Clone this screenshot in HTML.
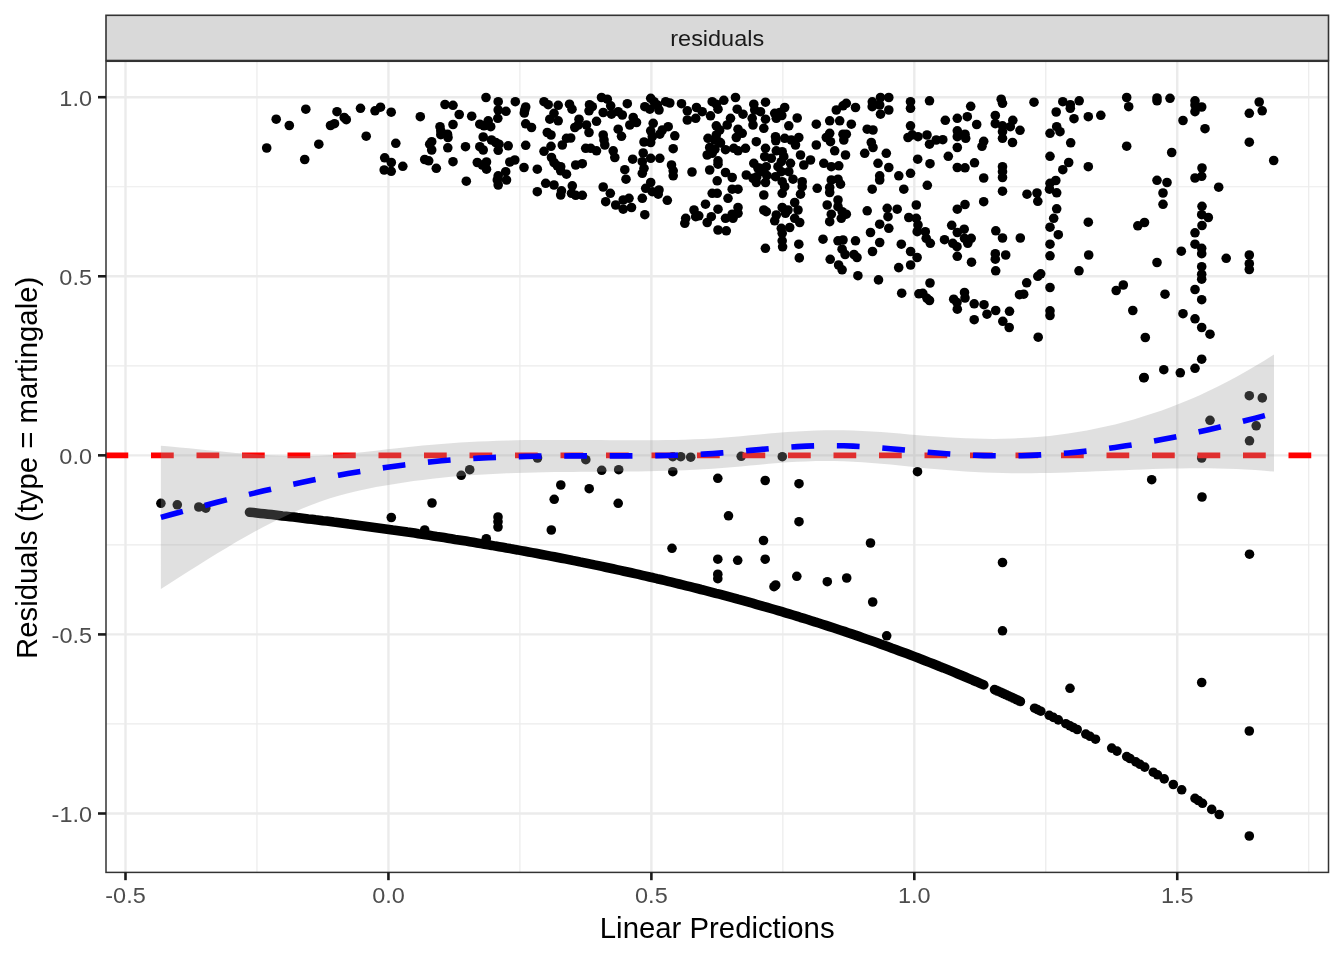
<!DOCTYPE html><html><head><meta charset="utf-8"><style>html,body{margin:0;padding:0;background:#fff;}svg{display:block}</style></head><body>
<svg width="1344" height="960" viewBox="0 0 1344 960" font-family="Liberation Sans, Arial, sans-serif">
<rect width="1344" height="960" fill="#fff"/>
<line x1="106.0" x2="1328.5" y1="723.96" y2="723.96" stroke="#EBEBEB" stroke-width="1.2"/><line x1="106.0" x2="1328.5" y1="544.89" y2="544.89" stroke="#EBEBEB" stroke-width="1.2"/><line x1="106.0" x2="1328.5" y1="365.81" y2="365.81" stroke="#EBEBEB" stroke-width="1.2"/><line x1="106.0" x2="1328.5" y1="186.74" y2="186.74" stroke="#EBEBEB" stroke-width="1.2"/><line x1="256.97" x2="256.97" y1="60.5" y2="872.4" stroke="#EBEBEB" stroke-width="1.2"/><line x1="519.91" x2="519.91" y1="60.5" y2="872.4" stroke="#EBEBEB" stroke-width="1.2"/><line x1="782.85" x2="782.85" y1="60.5" y2="872.4" stroke="#EBEBEB" stroke-width="1.2"/><line x1="1045.78" x2="1045.78" y1="60.5" y2="872.4" stroke="#EBEBEB" stroke-width="1.2"/><line x1="1308.72" x2="1308.72" y1="60.5" y2="872.4" stroke="#EBEBEB" stroke-width="1.2"/><line x1="106.0" x2="1328.5" y1="813.50" y2="813.50" stroke="#EBEBEB" stroke-width="2.4"/><line x1="106.0" x2="1328.5" y1="634.42" y2="634.42" stroke="#EBEBEB" stroke-width="2.4"/><line x1="106.0" x2="1328.5" y1="455.35" y2="455.35" stroke="#EBEBEB" stroke-width="2.4"/><line x1="106.0" x2="1328.5" y1="276.28" y2="276.28" stroke="#EBEBEB" stroke-width="2.4"/><line x1="106.0" x2="1328.5" y1="97.20" y2="97.20" stroke="#EBEBEB" stroke-width="2.4"/><line x1="125.50" x2="125.50" y1="60.5" y2="872.4" stroke="#EBEBEB" stroke-width="2.4"/><line x1="388.44" x2="388.44" y1="60.5" y2="872.4" stroke="#EBEBEB" stroke-width="2.4"/><line x1="651.38" x2="651.38" y1="60.5" y2="872.4" stroke="#EBEBEB" stroke-width="2.4"/><line x1="914.32" x2="914.32" y1="60.5" y2="872.4" stroke="#EBEBEB" stroke-width="2.4"/><line x1="1177.25" x2="1177.25" y1="60.5" y2="872.4" stroke="#EBEBEB" stroke-width="2.4"/>
<g fill="#000"><circle cx="276.2" cy="119.2" r="4.8"/><circle cx="289.3" cy="125.5" r="4.8"/><circle cx="305.8" cy="109.2" r="4.8"/><circle cx="266.7" cy="148.0" r="4.8"/><circle cx="304.7" cy="159.5" r="4.8"/><circle cx="318.8" cy="144.2" r="4.8"/><circle cx="337.0" cy="111.7" r="4.8"/><circle cx="344.2" cy="117.5" r="4.8"/><circle cx="346.3" cy="119.7" r="4.8"/><circle cx="330.5" cy="125.5" r="4.8"/><circle cx="334.5" cy="123.7" r="4.8"/><circle cx="360.5" cy="108.3" r="4.8"/><circle cx="375.0" cy="110.8" r="4.8"/><circle cx="380.5" cy="107.2" r="4.8"/><circle cx="391.2" cy="112.2" r="4.8"/><circle cx="366.2" cy="136.2" r="4.8"/><circle cx="395.8" cy="143.3" r="4.8"/><circle cx="384.7" cy="157.8" r="4.8"/><circle cx="391.3" cy="162.5" r="4.8"/><circle cx="384.2" cy="170.0" r="4.8"/><circle cx="391.2" cy="171.3" r="4.8"/><circle cx="402.8" cy="166.3" r="4.8"/><circle cx="420.3" cy="116.7" r="4.8"/><circle cx="445.0" cy="104.5" r="4.8"/><circle cx="453.0" cy="105.3" r="4.8"/><circle cx="459.2" cy="114.5" r="4.8"/><circle cx="471.7" cy="116.2" r="4.8"/><circle cx="453.0" cy="124.5" r="4.8"/><circle cx="440.0" cy="126.7" r="4.8"/><circle cx="440.8" cy="130.8" r="4.8"/><circle cx="440.8" cy="134.7" r="4.8"/><circle cx="447.5" cy="134.2" r="4.8"/><circle cx="448.0" cy="137.5" r="4.8"/><circle cx="431.7" cy="141.7" r="4.8"/><circle cx="429.7" cy="144.2" r="4.8"/><circle cx="431.7" cy="150.0" r="4.8"/><circle cx="447.8" cy="147.8" r="4.8"/><circle cx="465.5" cy="146.7" r="4.8"/><circle cx="424.7" cy="159.5" r="4.8"/><circle cx="428.7" cy="160.8" r="4.8"/><circle cx="436.3" cy="168.3" r="4.8"/><circle cx="453.0" cy="161.7" r="4.8"/><circle cx="466.3" cy="181.2" r="4.8"/><circle cx="486.0" cy="97.5" r="4.8"/><circle cx="498.2" cy="101.7" r="4.8"/><circle cx="515.3" cy="101.7" r="4.8"/><circle cx="525.7" cy="107.0" r="4.8"/><circle cx="544.0" cy="101.7" r="4.8"/><circle cx="548.2" cy="104.7" r="4.8"/><circle cx="558.2" cy="105.3" r="4.8"/><circle cx="569.5" cy="104.2" r="4.8"/><circle cx="572.0" cy="109.2" r="4.8"/><circle cx="589.5" cy="104.7" r="4.8"/><circle cx="592.3" cy="106.7" r="4.8"/><circle cx="601.5" cy="97.5" r="4.8"/><circle cx="607.3" cy="99.2" r="4.8"/><circle cx="610.7" cy="105.8" r="4.8"/><circle cx="627.3" cy="103.7" r="4.8"/><circle cx="650.7" cy="98.3" r="4.8"/><circle cx="654.0" cy="101.7" r="4.8"/><circle cx="657.3" cy="105.0" r="4.8"/><circle cx="644.8" cy="106.7" r="4.8"/><circle cx="649.8" cy="109.2" r="4.8"/><circle cx="659.0" cy="110.0" r="4.8"/><circle cx="665.7" cy="101.7" r="4.8"/><circle cx="669.8" cy="103.0" r="4.8"/><circle cx="681.5" cy="103.7" r="4.8"/><circle cx="696.5" cy="107.5" r="4.8"/><circle cx="498.2" cy="110.0" r="4.8"/><circle cx="506.0" cy="111.3" r="4.8"/><circle cx="497.8" cy="118.3" r="4.8"/><circle cx="524.3" cy="113.0" r="4.8"/><circle cx="524.8" cy="110.0" r="4.8"/><circle cx="479.8" cy="124.2" r="4.8"/><circle cx="484.0" cy="125.8" r="4.8"/><circle cx="488.2" cy="120.8" r="4.8"/><circle cx="490.7" cy="126.7" r="4.8"/><circle cx="525.7" cy="123.8" r="4.8"/><circle cx="531.5" cy="127.5" r="4.8"/><circle cx="554.0" cy="113.3" r="4.8"/><circle cx="549.8" cy="119.2" r="4.8"/><circle cx="558.2" cy="120.8" r="4.8"/><circle cx="579.0" cy="119.2" r="4.8"/><circle cx="574.8" cy="127.5" r="4.8"/><circle cx="578.2" cy="125.0" r="4.8"/><circle cx="586.5" cy="125.0" r="4.8"/><circle cx="589.0" cy="132.5" r="4.8"/><circle cx="596.5" cy="121.3" r="4.8"/><circle cx="589.0" cy="110.8" r="4.8"/><circle cx="603.2" cy="112.5" r="4.8"/><circle cx="611.5" cy="114.2" r="4.8"/><circle cx="618.2" cy="111.7" r="4.8"/><circle cx="622.3" cy="115.0" r="4.8"/><circle cx="633.2" cy="117.5" r="4.8"/><circle cx="636.5" cy="122.5" r="4.8"/><circle cx="629.8" cy="125.0" r="4.8"/><circle cx="653.2" cy="123.3" r="4.8"/><circle cx="650.7" cy="130.8" r="4.8"/><circle cx="668.2" cy="126.7" r="4.8"/><circle cx="662.3" cy="130.0" r="4.8"/><circle cx="659.8" cy="134.2" r="4.8"/><circle cx="687.3" cy="110.8" r="4.8"/><circle cx="687.3" cy="120.0" r="4.8"/><circle cx="695.7" cy="118.3" r="4.8"/><circle cx="674.8" cy="135.8" r="4.8"/><circle cx="618.2" cy="129.2" r="4.8"/><circle cx="621.5" cy="136.3" r="4.8"/><circle cx="547.3" cy="132.5" r="4.8"/><circle cx="551.0" cy="135.0" r="4.8"/><circle cx="483.2" cy="137.0" r="4.8"/><circle cx="491.5" cy="140.0" r="4.8"/><circle cx="495.7" cy="142.5" r="4.8"/><circle cx="499.0" cy="144.2" r="4.8"/><circle cx="498.2" cy="150.3" r="4.8"/><circle cx="479.8" cy="146.7" r="4.8"/><circle cx="483.2" cy="150.0" r="4.8"/><circle cx="508.2" cy="145.8" r="4.8"/><circle cx="525.7" cy="145.3" r="4.8"/><circle cx="544.0" cy="151.3" r="4.8"/><circle cx="551.0" cy="146.3" r="4.8"/><circle cx="562.3" cy="145.0" r="4.8"/><circle cx="566.5" cy="138.3" r="4.8"/><circle cx="570.7" cy="138.0" r="4.8"/><circle cx="585.7" cy="148.3" r="4.8"/><circle cx="590.7" cy="148.3" r="4.8"/><circle cx="596.5" cy="150.8" r="4.8"/><circle cx="603.2" cy="135.0" r="4.8"/><circle cx="604.0" cy="140.0" r="4.8"/><circle cx="604.8" cy="145.0" r="4.8"/><circle cx="613.2" cy="150.8" r="4.8"/><circle cx="614.8" cy="157.5" r="4.8"/><circle cx="644.0" cy="142.0" r="4.8"/><circle cx="650.7" cy="142.5" r="4.8"/><circle cx="652.3" cy="136.7" r="4.8"/><circle cx="643.2" cy="153.0" r="4.8"/><circle cx="673.2" cy="148.7" r="4.8"/><circle cx="650.7" cy="158.3" r="4.8"/><circle cx="659.8" cy="158.3" r="4.8"/><circle cx="632.7" cy="159.2" r="4.8"/><circle cx="477.3" cy="162.5" r="4.8"/><circle cx="482.3" cy="165.0" r="4.8"/><circle cx="486.5" cy="162.0" r="4.8"/><circle cx="486.5" cy="169.2" r="4.8"/><circle cx="509.8" cy="162.0" r="4.8"/><circle cx="514.8" cy="160.0" r="4.8"/><circle cx="505.7" cy="171.7" r="4.8"/><circle cx="498.2" cy="175.8" r="4.8"/><circle cx="497.3" cy="180.0" r="4.8"/><circle cx="498.2" cy="185.0" r="4.8"/><circle cx="506.5" cy="180.0" r="4.8"/><circle cx="524.0" cy="167.5" r="4.8"/><circle cx="537.3" cy="169.2" r="4.8"/><circle cx="551.5" cy="157.5" r="4.8"/><circle cx="554.0" cy="162.5" r="4.8"/><circle cx="557.3" cy="165.8" r="4.8"/><circle cx="560.7" cy="166.7" r="4.8"/><circle cx="560.7" cy="170.8" r="4.8"/><circle cx="566.5" cy="174.2" r="4.8"/><circle cx="575.7" cy="165.0" r="4.8"/><circle cx="582.3" cy="163.7" r="4.8"/><circle cx="624.8" cy="169.7" r="4.8"/><circle cx="626.0" cy="179.2" r="4.8"/><circle cx="642.3" cy="161.7" r="4.8"/><circle cx="644.0" cy="168.3" r="4.8"/><circle cx="642.3" cy="173.3" r="4.8"/><circle cx="671.5" cy="165.0" r="4.8"/><circle cx="673.2" cy="170.8" r="4.8"/><circle cx="673.2" cy="175.8" r="4.8"/><circle cx="692.0" cy="172.0" r="4.8"/><circle cx="537.3" cy="191.7" r="4.8"/><circle cx="545.7" cy="183.3" r="4.8"/><circle cx="554.0" cy="185.0" r="4.8"/><circle cx="561.5" cy="190.8" r="4.8"/><circle cx="560.7" cy="195.0" r="4.8"/><circle cx="572.3" cy="185.8" r="4.8"/><circle cx="571.5" cy="193.3" r="4.8"/><circle cx="575.7" cy="195.3" r="4.8"/><circle cx="582.3" cy="195.3" r="4.8"/><circle cx="603.2" cy="187.0" r="4.8"/><circle cx="610.3" cy="193.3" r="4.8"/><circle cx="605.7" cy="201.7" r="4.8"/><circle cx="615.7" cy="205.0" r="4.8"/><circle cx="623.2" cy="200.0" r="4.8"/><circle cx="629.0" cy="198.3" r="4.8"/><circle cx="623.2" cy="209.2" r="4.8"/><circle cx="631.5" cy="207.5" r="4.8"/><circle cx="642.3" cy="198.3" r="4.8"/><circle cx="644.8" cy="214.7" r="4.8"/><circle cx="650.7" cy="182.5" r="4.8"/><circle cx="645.7" cy="188.3" r="4.8"/><circle cx="652.3" cy="191.7" r="4.8"/><circle cx="659.0" cy="190.0" r="4.8"/><circle cx="658.2" cy="194.2" r="4.8"/><circle cx="667.3" cy="200.3" r="4.8"/><circle cx="685.7" cy="218.3" r="4.8"/><circle cx="684.8" cy="223.3" r="4.8"/><circle cx="694.0" cy="210.0" r="4.8"/><circle cx="695.7" cy="216.7" r="4.8"/><circle cx="702.2" cy="111.7" r="4.8"/><circle cx="710.5" cy="115.8" r="4.8"/><circle cx="712.2" cy="101.7" r="4.8"/><circle cx="716.3" cy="104.2" r="4.8"/><circle cx="718.0" cy="109.2" r="4.8"/><circle cx="723.8" cy="100.3" r="4.8"/><circle cx="735.5" cy="97.5" r="4.8"/><circle cx="737.2" cy="109.2" r="4.8"/><circle cx="743.0" cy="114.2" r="4.8"/><circle cx="730.5" cy="118.3" r="4.8"/><circle cx="727.2" cy="125.0" r="4.8"/><circle cx="716.3" cy="125.8" r="4.8"/><circle cx="753.8" cy="104.2" r="4.8"/><circle cx="754.7" cy="110.0" r="4.8"/><circle cx="760.5" cy="111.7" r="4.8"/><circle cx="765.5" cy="102.2" r="4.8"/><circle cx="765.5" cy="119.2" r="4.8"/><circle cx="752.2" cy="118.3" r="4.8"/><circle cx="753.0" cy="125.0" r="4.8"/><circle cx="763.8" cy="128.3" r="4.8"/><circle cx="774.7" cy="113.3" r="4.8"/><circle cx="779.7" cy="112.5" r="4.8"/><circle cx="784.7" cy="107.5" r="4.8"/><circle cx="776.3" cy="118.3" r="4.8"/><circle cx="797.2" cy="118.0" r="4.8"/><circle cx="788.8" cy="125.8" r="4.8"/><circle cx="719.7" cy="130.0" r="4.8"/><circle cx="716.3" cy="135.0" r="4.8"/><circle cx="708.0" cy="138.3" r="4.8"/><circle cx="718.8" cy="141.7" r="4.8"/><circle cx="714.7" cy="140.0" r="4.8"/><circle cx="709.7" cy="147.5" r="4.8"/><circle cx="707.2" cy="155.0" r="4.8"/><circle cx="712.2" cy="153.3" r="4.8"/><circle cx="725.5" cy="149.7" r="4.8"/><circle cx="733.8" cy="148.3" r="4.8"/><circle cx="738.0" cy="150.8" r="4.8"/><circle cx="745.5" cy="148.3" r="4.8"/><circle cx="738.0" cy="129.2" r="4.8"/><circle cx="742.2" cy="133.3" r="4.8"/><circle cx="736.3" cy="137.5" r="4.8"/><circle cx="756.3" cy="141.7" r="4.8"/><circle cx="765.5" cy="148.3" r="4.8"/><circle cx="775.5" cy="136.7" r="4.8"/><circle cx="784.7" cy="138.3" r="4.8"/><circle cx="791.3" cy="140.0" r="4.8"/><circle cx="798.8" cy="137.5" r="4.8"/><circle cx="795.5" cy="145.0" r="4.8"/><circle cx="776.3" cy="150.8" r="4.8"/><circle cx="782.2" cy="151.7" r="4.8"/><circle cx="783.8" cy="156.7" r="4.8"/><circle cx="771.3" cy="158.3" r="4.8"/><circle cx="764.7" cy="156.7" r="4.8"/><circle cx="816.3" cy="124.2" r="4.8"/><circle cx="829.7" cy="120.8" r="4.8"/><circle cx="839.7" cy="120.8" r="4.8"/><circle cx="851.3" cy="124.2" r="4.8"/><circle cx="836.3" cy="110.0" r="4.8"/><circle cx="843.0" cy="105.8" r="4.8"/><circle cx="855.5" cy="107.5" r="4.8"/><circle cx="846.3" cy="103.3" r="4.8"/><circle cx="826.3" cy="137.5" r="4.8"/><circle cx="829.7" cy="133.3" r="4.8"/><circle cx="830.5" cy="141.7" r="4.8"/><circle cx="843.0" cy="134.2" r="4.8"/><circle cx="846.3" cy="134.2" r="4.8"/><circle cx="843.8" cy="140.0" r="4.8"/><circle cx="816.3" cy="145.0" r="4.8"/><circle cx="834.7" cy="150.8" r="4.8"/><circle cx="845.5" cy="155.0" r="4.8"/><circle cx="867.2" cy="129.2" r="4.8"/><circle cx="873.0" cy="130.0" r="4.8"/><circle cx="871.3" cy="142.5" r="4.8"/><circle cx="873.0" cy="147.5" r="4.8"/><circle cx="864.7" cy="153.3" r="4.8"/><circle cx="872.2" cy="106.7" r="4.8"/><circle cx="880.5" cy="97.5" r="4.8"/><circle cx="888.8" cy="97.5" r="4.8"/><circle cx="879.7" cy="105.0" r="4.8"/><circle cx="888.8" cy="110.0" r="4.8"/><circle cx="880.5" cy="114.2" r="4.8"/><circle cx="910.5" cy="101.7" r="4.8"/><circle cx="910.5" cy="108.3" r="4.8"/><circle cx="910.5" cy="125.8" r="4.8"/><circle cx="908.0" cy="137.5" r="4.8"/><circle cx="918.0" cy="136.7" r="4.8"/><circle cx="886.3" cy="153.3" r="4.8"/><circle cx="718.0" cy="160.8" r="4.8"/><circle cx="718.0" cy="164.2" r="4.8"/><circle cx="709.7" cy="170.0" r="4.8"/><circle cx="725.5" cy="172.5" r="4.8"/><circle cx="732.2" cy="177.5" r="4.8"/><circle cx="717.2" cy="180.8" r="4.8"/><circle cx="746.3" cy="175.0" r="4.8"/><circle cx="753.8" cy="163.3" r="4.8"/><circle cx="758.0" cy="168.3" r="4.8"/><circle cx="763.0" cy="171.7" r="4.8"/><circle cx="766.3" cy="166.7" r="4.8"/><circle cx="753.0" cy="178.3" r="4.8"/><circle cx="756.3" cy="182.5" r="4.8"/><circle cx="765.5" cy="182.5" r="4.8"/><circle cx="775.5" cy="176.7" r="4.8"/><circle cx="778.0" cy="166.7" r="4.8"/><circle cx="781.3" cy="161.7" r="4.8"/><circle cx="781.3" cy="171.7" r="4.8"/><circle cx="788.8" cy="171.7" r="4.8"/><circle cx="790.5" cy="163.3" r="4.8"/><circle cx="793.0" cy="179.2" r="4.8"/><circle cx="782.2" cy="181.7" r="4.8"/><circle cx="784.7" cy="186.7" r="4.8"/><circle cx="782.2" cy="193.3" r="4.8"/><circle cx="800.5" cy="155.0" r="4.8"/><circle cx="803.8" cy="165.0" r="4.8"/><circle cx="810.5" cy="160.0" r="4.8"/><circle cx="823.8" cy="163.3" r="4.8"/><circle cx="831.3" cy="166.7" r="4.8"/><circle cx="838.8" cy="165.8" r="4.8"/><circle cx="802.2" cy="181.7" r="4.8"/><circle cx="802.2" cy="186.7" r="4.8"/><circle cx="800.5" cy="194.2" r="4.8"/><circle cx="817.2" cy="188.3" r="4.8"/><circle cx="831.3" cy="180.0" r="4.8"/><circle cx="838.0" cy="179.2" r="4.8"/><circle cx="840.5" cy="184.2" r="4.8"/><circle cx="829.7" cy="187.5" r="4.8"/><circle cx="829.7" cy="192.5" r="4.8"/><circle cx="878.0" cy="163.3" r="4.8"/><circle cx="888.8" cy="167.5" r="4.8"/><circle cx="879.7" cy="175.8" r="4.8"/><circle cx="879.7" cy="180.0" r="4.8"/><circle cx="898.8" cy="175.8" r="4.8"/><circle cx="910.5" cy="173.3" r="4.8"/><circle cx="917.7" cy="159.2" r="4.8"/><circle cx="872.2" cy="189.2" r="4.8"/><circle cx="903.8" cy="189.2" r="4.8"/><circle cx="712.2" cy="193.3" r="4.8"/><circle cx="717.2" cy="193.3" r="4.8"/><circle cx="728.0" cy="198.3" r="4.8"/><circle cx="732.2" cy="189.2" r="4.8"/><circle cx="738.0" cy="189.2" r="4.8"/><circle cx="705.5" cy="204.2" r="4.8"/><circle cx="718.0" cy="209.2" r="4.8"/><circle cx="711.3" cy="216.7" r="4.8"/><circle cx="707.2" cy="222.5" r="4.8"/><circle cx="698.8" cy="215.8" r="4.8"/><circle cx="725.5" cy="218.3" r="4.8"/><circle cx="732.2" cy="214.2" r="4.8"/><circle cx="738.0" cy="207.5" r="4.8"/><circle cx="738.0" cy="213.3" r="4.8"/><circle cx="733.0" cy="218.3" r="4.8"/><circle cx="718.0" cy="230.0" r="4.8"/><circle cx="726.3" cy="230.8" r="4.8"/><circle cx="763.8" cy="195.0" r="4.8"/><circle cx="763.8" cy="210.0" r="4.8"/><circle cx="766.3" cy="211.7" r="4.8"/><circle cx="776.3" cy="215.0" r="4.8"/><circle cx="774.7" cy="220.8" r="4.8"/><circle cx="782.2" cy="207.5" r="4.8"/><circle cx="785.5" cy="213.3" r="4.8"/><circle cx="788.0" cy="210.0" r="4.8"/><circle cx="794.7" cy="202.5" r="4.8"/><circle cx="798.0" cy="210.0" r="4.8"/><circle cx="794.7" cy="218.3" r="4.8"/><circle cx="799.7" cy="222.5" r="4.8"/><circle cx="781.3" cy="228.3" r="4.8"/><circle cx="789.7" cy="227.5" r="4.8"/><circle cx="782.2" cy="233.3" r="4.8"/><circle cx="782.2" cy="240.8" r="4.8"/><circle cx="798.8" cy="244.2" r="4.8"/><circle cx="827.2" cy="205.0" r="4.8"/><circle cx="838.0" cy="200.0" r="4.8"/><circle cx="838.0" cy="206.7" r="4.8"/><circle cx="842.2" cy="211.7" r="4.8"/><circle cx="846.3" cy="214.2" r="4.8"/><circle cx="831.3" cy="214.2" r="4.8"/><circle cx="829.7" cy="221.7" r="4.8"/><circle cx="841.3" cy="218.3" r="4.8"/><circle cx="823.0" cy="239.2" r="4.8"/><circle cx="838.0" cy="240.8" r="4.8"/><circle cx="843.0" cy="240.0" r="4.8"/><circle cx="855.5" cy="240.8" r="4.8"/><circle cx="867.2" cy="210.8" r="4.8"/><circle cx="887.2" cy="208.3" r="4.8"/><circle cx="897.2" cy="209.2" r="4.8"/><circle cx="888.0" cy="216.7" r="4.8"/><circle cx="888.8" cy="228.3" r="4.8"/><circle cx="879.7" cy="224.2" r="4.8"/><circle cx="870.5" cy="232.5" r="4.8"/><circle cx="879.7" cy="242.5" r="4.8"/><circle cx="901.3" cy="244.2" r="4.8"/><circle cx="908.8" cy="217.5" r="4.8"/><circle cx="916.3" cy="205.0" r="4.8"/><circle cx="916.3" cy="218.3" r="4.8"/><circle cx="918.0" cy="225.0" r="4.8"/><circle cx="917.2" cy="231.7" r="4.8"/><circle cx="929.5" cy="100.8" r="4.8"/><circle cx="970.7" cy="106.3" r="4.8"/><circle cx="945.3" cy="120.3" r="4.8"/><circle cx="957.3" cy="118.3" r="4.8"/><circle cx="967.3" cy="116.7" r="4.8"/><circle cx="976.7" cy="124.5" r="4.8"/><circle cx="1001.2" cy="99.2" r="4.8"/><circle cx="1002.5" cy="103.3" r="4.8"/><circle cx="995.3" cy="115.5" r="4.8"/><circle cx="995.3" cy="123.7" r="4.8"/><circle cx="1002.5" cy="125.8" r="4.8"/><circle cx="1012.8" cy="120.3" r="4.8"/><circle cx="1010.3" cy="126.7" r="4.8"/><circle cx="1020.0" cy="130.3" r="4.8"/><circle cx="1002.5" cy="131.7" r="4.8"/><circle cx="1002.5" cy="138.3" r="4.8"/><circle cx="1012.5" cy="142.5" r="4.8"/><circle cx="1034.0" cy="102.2" r="4.8"/><circle cx="927.0" cy="135.0" r="4.8"/><circle cx="929.5" cy="144.2" r="4.8"/><circle cx="936.2" cy="140.0" r="4.8"/><circle cx="942.8" cy="139.7" r="4.8"/><circle cx="957.3" cy="130.8" r="4.8"/><circle cx="957.3" cy="136.7" r="4.8"/><circle cx="965.0" cy="134.2" r="4.8"/><circle cx="965.7" cy="138.3" r="4.8"/><circle cx="983.7" cy="141.3" r="4.8"/><circle cx="982.0" cy="146.3" r="4.8"/><circle cx="957.3" cy="147.5" r="4.8"/><circle cx="948.3" cy="156.3" r="4.8"/><circle cx="930.0" cy="163.7" r="4.8"/><circle cx="957.3" cy="167.5" r="4.8"/><circle cx="965.0" cy="167.8" r="4.8"/><circle cx="974.5" cy="162.8" r="4.8"/><circle cx="983.7" cy="178.0" r="4.8"/><circle cx="1002.5" cy="166.7" r="4.8"/><circle cx="1002.5" cy="171.7" r="4.8"/><circle cx="1002.5" cy="177.5" r="4.8"/><circle cx="927.3" cy="185.3" r="4.8"/><circle cx="1002.5" cy="191.2" r="4.8"/><circle cx="1027.0" cy="194.2" r="4.8"/><circle cx="1037.0" cy="193.0" r="4.8"/><circle cx="1037.8" cy="201.3" r="4.8"/><circle cx="957.3" cy="209.2" r="4.8"/><circle cx="965.0" cy="204.5" r="4.8"/><circle cx="983.7" cy="201.7" r="4.8"/><circle cx="951.7" cy="225.3" r="4.8"/><circle cx="957.3" cy="232.5" r="4.8"/><circle cx="964.2" cy="229.2" r="4.8"/><circle cx="925.3" cy="231.7" r="4.8"/><circle cx="926.2" cy="238.3" r="4.8"/><circle cx="930.3" cy="243.3" r="4.8"/><circle cx="944.5" cy="239.7" r="4.8"/><circle cx="952.8" cy="243.3" r="4.8"/><circle cx="964.5" cy="238.3" r="4.8"/><circle cx="971.2" cy="238.3" r="4.8"/><circle cx="967.8" cy="243.3" r="4.8"/><circle cx="995.8" cy="230.8" r="4.8"/><circle cx="1002.5" cy="238.0" r="4.8"/><circle cx="1020.3" cy="238.0" r="4.8"/><circle cx="1062.8" cy="101.7" r="4.8"/><circle cx="1070.3" cy="104.7" r="4.8"/><circle cx="1070.3" cy="108.3" r="4.8"/><circle cx="1079.2" cy="100.8" r="4.8"/><circle cx="1056.2" cy="112.0" r="4.8"/><circle cx="1074.0" cy="118.7" r="4.8"/><circle cx="1088.3" cy="116.7" r="4.8"/><circle cx="1100.8" cy="115.3" r="4.8"/><circle cx="1126.7" cy="97.5" r="4.8"/><circle cx="1128.7" cy="106.7" r="4.8"/><circle cx="1056.7" cy="126.7" r="4.8"/><circle cx="1060.0" cy="131.7" r="4.8"/><circle cx="1050.0" cy="133.3" r="4.8"/><circle cx="1070.7" cy="142.8" r="4.8"/><circle cx="1126.7" cy="146.2" r="4.8"/><circle cx="1050.0" cy="156.3" r="4.8"/><circle cx="1068.7" cy="162.5" r="4.8"/><circle cx="1062.8" cy="169.7" r="4.8"/><circle cx="1088.3" cy="166.7" r="4.8"/><circle cx="1050.0" cy="183.3" r="4.8"/><circle cx="1055.8" cy="180.5" r="4.8"/><circle cx="1049.5" cy="189.2" r="4.8"/><circle cx="1056.7" cy="192.8" r="4.8"/><circle cx="1056.7" cy="208.8" r="4.8"/><circle cx="1053.7" cy="218.3" r="4.8"/><circle cx="1050.0" cy="227.2" r="4.8"/><circle cx="1058.3" cy="234.7" r="4.8"/><circle cx="1088.3" cy="222.2" r="4.8"/><circle cx="1137.8" cy="225.8" r="4.8"/><circle cx="1144.5" cy="222.5" r="4.8"/><circle cx="1050.0" cy="244.2" r="4.8"/><circle cx="1157.0" cy="98.0" r="4.8"/><circle cx="1157.0" cy="100.8" r="4.8"/><circle cx="1170.0" cy="98.3" r="4.8"/><circle cx="1195.0" cy="100.8" r="4.8"/><circle cx="1195.0" cy="105.0" r="4.8"/><circle cx="1201.7" cy="107.0" r="4.8"/><circle cx="1195.0" cy="111.7" r="4.8"/><circle cx="1183.0" cy="120.5" r="4.8"/><circle cx="1205.0" cy="128.7" r="4.8"/><circle cx="1259.2" cy="102.0" r="4.8"/><circle cx="1262.2" cy="110.8" r="4.8"/><circle cx="1249.3" cy="113.3" r="4.8"/><circle cx="1249.3" cy="142.2" r="4.8"/><circle cx="1171.7" cy="152.5" r="4.8"/><circle cx="1273.7" cy="160.5" r="4.8"/><circle cx="1202.0" cy="168.0" r="4.8"/><circle cx="1201.7" cy="176.3" r="4.8"/><circle cx="1195.0" cy="178.0" r="4.8"/><circle cx="1157.0" cy="180.3" r="4.8"/><circle cx="1167.0" cy="182.5" r="4.8"/><circle cx="1218.7" cy="187.2" r="4.8"/><circle cx="1163.0" cy="193.0" r="4.8"/><circle cx="1163.0" cy="204.3" r="4.8"/><circle cx="1202.0" cy="206.3" r="4.8"/><circle cx="1201.7" cy="214.7" r="4.8"/><circle cx="1208.3" cy="217.5" r="4.8"/><circle cx="1202.0" cy="225.5" r="4.8"/><circle cx="1195.0" cy="232.8" r="4.8"/><circle cx="1195.0" cy="244.2" r="4.8"/><circle cx="957.0" cy="246.7" r="4.8"/><circle cx="957.3" cy="256.3" r="4.8"/><circle cx="971.5" cy="262.2" r="4.8"/><circle cx="995.3" cy="253.7" r="4.8"/><circle cx="995.3" cy="259.2" r="4.8"/><circle cx="1005.7" cy="255.0" r="4.8"/><circle cx="995.7" cy="270.8" r="4.8"/><circle cx="1050.0" cy="255.8" r="4.8"/><circle cx="1088.7" cy="255.0" r="4.8"/><circle cx="1079.0" cy="270.8" r="4.8"/><circle cx="930.0" cy="283.0" r="4.8"/><circle cx="922.8" cy="293.3" r="4.8"/><circle cx="927.0" cy="298.3" r="4.8"/><circle cx="929.5" cy="300.5" r="4.8"/><circle cx="953.7" cy="299.2" r="4.8"/><circle cx="957.0" cy="302.5" r="4.8"/><circle cx="957.3" cy="309.2" r="4.8"/><circle cx="964.5" cy="292.5" r="4.8"/><circle cx="965.0" cy="298.0" r="4.8"/><circle cx="974.2" cy="303.8" r="4.8"/><circle cx="984.0" cy="304.7" r="4.8"/><circle cx="987.0" cy="314.2" r="4.8"/><circle cx="974.2" cy="319.7" r="4.8"/><circle cx="995.7" cy="310.5" r="4.8"/><circle cx="1009.5" cy="311.3" r="4.8"/><circle cx="1002.8" cy="321.3" r="4.8"/><circle cx="1009.2" cy="327.5" r="4.8"/><circle cx="1026.7" cy="282.8" r="4.8"/><circle cx="1019.5" cy="294.7" r="4.8"/><circle cx="1023.7" cy="294.2" r="4.8"/><circle cx="1037.8" cy="276.3" r="4.8"/><circle cx="1040.7" cy="273.8" r="4.8"/><circle cx="1050.0" cy="287.5" r="4.8"/><circle cx="1050.0" cy="310.8" r="4.8"/><circle cx="1050.0" cy="315.5" r="4.8"/><circle cx="1038.2" cy="337.2" r="4.8"/><circle cx="1116.2" cy="290.5" r="4.8"/><circle cx="1123.3" cy="285.0" r="4.8"/><circle cx="1132.8" cy="310.5" r="4.8"/><circle cx="1145.3" cy="337.5" r="4.8"/><circle cx="1143.7" cy="377.8" r="4.8"/><circle cx="1181.3" cy="251.2" r="4.8"/><circle cx="1201.7" cy="248.3" r="4.8"/><circle cx="1201.7" cy="253.7" r="4.8"/><circle cx="1226.2" cy="258.3" r="4.8"/><circle cx="1249.3" cy="255.0" r="4.8"/><circle cx="1249.3" cy="263.7" r="4.8"/><circle cx="1249.3" cy="269.5" r="4.8"/><circle cx="1157.0" cy="262.5" r="4.8"/><circle cx="1201.7" cy="266.7" r="4.8"/><circle cx="1201.7" cy="274.2" r="4.8"/><circle cx="1201.7" cy="279.2" r="4.8"/><circle cx="1195.0" cy="289.5" r="4.8"/><circle cx="1165.0" cy="294.2" r="4.8"/><circle cx="1201.7" cy="299.7" r="4.8"/><circle cx="1183.0" cy="313.7" r="4.8"/><circle cx="1195.0" cy="318.8" r="4.8"/><circle cx="1201.7" cy="327.5" r="4.8"/><circle cx="1210.0" cy="334.2" r="4.8"/><circle cx="1201.7" cy="359.2" r="4.8"/><circle cx="1195.0" cy="368.3" r="4.8"/><circle cx="1180.3" cy="372.8" r="4.8"/><circle cx="1163.8" cy="369.7" r="4.8"/><circle cx="1144.2" cy="377.5" r="4.8"/><circle cx="461.2" cy="475.3" r="4.8"/><circle cx="469.7" cy="469.7" r="4.8"/><circle cx="537.5" cy="458.0" r="4.8"/><circle cx="585.8" cy="459.7" r="4.8"/><circle cx="601.7" cy="470.3" r="4.8"/><circle cx="560.8" cy="485.0" r="4.8"/><circle cx="589.2" cy="488.7" r="4.8"/><circle cx="554.2" cy="499.3" r="4.8"/><circle cx="432.0" cy="503.0" r="4.8"/><circle cx="391.3" cy="517.5" r="4.8"/><circle cx="498.0" cy="517.0" r="4.8"/><circle cx="498.0" cy="521.7" r="4.8"/><circle cx="498.0" cy="527.0" r="4.8"/><circle cx="551.3" cy="530.0" r="4.8"/><circle cx="424.7" cy="530.0" r="4.8"/><circle cx="486.3" cy="538.7" r="4.8"/><circle cx="618.7" cy="469.7" r="4.8"/><circle cx="672.8" cy="456.7" r="4.8"/><circle cx="680.7" cy="456.7" r="4.8"/><circle cx="690.7" cy="457.2" r="4.8"/><circle cx="672.8" cy="471.7" r="4.8"/><circle cx="741.2" cy="456.3" r="4.8"/><circle cx="782.3" cy="456.7" r="4.8"/><circle cx="618.2" cy="503.3" r="4.8"/><circle cx="717.8" cy="478.3" r="4.8"/><circle cx="765.2" cy="480.5" r="4.8"/><circle cx="799.0" cy="483.7" r="4.8"/><circle cx="728.5" cy="515.8" r="4.8"/><circle cx="799.0" cy="521.7" r="4.8"/><circle cx="763.5" cy="540.5" r="4.8"/><circle cx="672.0" cy="548.3" r="4.8"/><circle cx="717.8" cy="559.2" r="4.8"/><circle cx="737.7" cy="560.3" r="4.8"/><circle cx="765.2" cy="559.2" r="4.8"/><circle cx="717.8" cy="574.2" r="4.8"/><circle cx="717.8" cy="578.7" r="4.8"/><circle cx="796.8" cy="576.3" r="4.8"/><circle cx="774.0" cy="586.7" r="4.8"/><circle cx="775.7" cy="585.0" r="4.8"/><circle cx="827.3" cy="581.7" r="4.8"/><circle cx="765.4" cy="248.3" r="4.8"/><circle cx="782.6" cy="246.8" r="4.8"/><circle cx="799.3" cy="257.9" r="4.8"/><circle cx="842.1" cy="249.2" r="4.8"/><circle cx="845.1" cy="254.5" r="4.8"/><circle cx="854.0" cy="254.5" r="4.8"/><circle cx="857.0" cy="257.5" r="4.8"/><circle cx="830.2" cy="259.3" r="4.8"/><circle cx="838.6" cy="265.0" r="4.8"/><circle cx="842.1" cy="269.8" r="4.8"/><circle cx="857.9" cy="275.7" r="4.8"/><circle cx="872.5" cy="251.5" r="4.8"/><circle cx="878.5" cy="279.9" r="4.8"/><circle cx="910.6" cy="251.5" r="4.8"/><circle cx="917.1" cy="257.5" r="4.8"/><circle cx="898.7" cy="267.6" r="4.8"/><circle cx="910.6" cy="265.0" r="4.8"/><circle cx="901.7" cy="293.2" r="4.8"/><circle cx="918.9" cy="293.8" r="4.8"/><circle cx="1249.3" cy="395.7" r="4.8"/><circle cx="1262.3" cy="397.9" r="4.8"/><circle cx="160.9" cy="503.3" r="4.8"/><circle cx="177.3" cy="504.8" r="4.8"/><circle cx="198.8" cy="507.0" r="4.8"/><circle cx="205.8" cy="508.1" r="4.8"/><circle cx="917.5" cy="471.7" r="4.8"/><circle cx="870.5" cy="543.0" r="4.8"/><circle cx="846.7" cy="578.0" r="4.8"/><circle cx="1002.5" cy="562.5" r="4.8"/><circle cx="872.7" cy="602.0" r="4.8"/><circle cx="886.7" cy="635.8" r="4.8"/><circle cx="1002.5" cy="630.8" r="4.8"/><circle cx="1070.0" cy="688.3" r="4.8"/><circle cx="1201.7" cy="682.5" r="4.8"/><circle cx="1210.0" cy="420.3" r="4.8"/><circle cx="1256.2" cy="425.8" r="4.8"/><circle cx="1249.5" cy="440.8" r="4.8"/><circle cx="1201.7" cy="458.0" r="4.8"/><circle cx="1151.7" cy="479.7" r="4.8"/><circle cx="1202.0" cy="497.0" r="4.8"/><circle cx="1249.5" cy="554.2" r="4.8"/><circle cx="1249.3" cy="731.0" r="4.8"/><circle cx="1249.3" cy="836.0" r="4.8"/><circle cx="775.8" cy="140.8" r="4.8"/><circle cx="720.5" cy="143.0" r="4.8"/><circle cx="714.9" cy="149.3" r="4.8"/><circle cx="759.2" cy="168.0" r="4.8"/><circle cx="766.8" cy="175.5" r="4.8"/><circle cx="756.8" cy="176.8" r="4.8"/><circle cx="781.8" cy="115.5" r="4.8"/><circle cx="872.3" cy="101.8" r="4.8"/><circle cx="912.2" cy="134.9" r="4.8"/><circle cx="1034.6" cy="708.2" r="4.8"/><circle cx="1037.5" cy="709.6" r="4.8"/><circle cx="1040.8" cy="711.2" r="4.8"/><circle cx="1049.2" cy="715.3" r="4.8"/><circle cx="1053.3" cy="717.4" r="4.8"/><circle cx="1058.3" cy="719.9" r="4.8"/><circle cx="1065.8" cy="723.7" r="4.8"/><circle cx="1070.0" cy="725.8" r="4.8"/><circle cx="1073.3" cy="727.5" r="4.8"/><circle cx="1077.2" cy="729.5" r="4.8"/><circle cx="1085.8" cy="734.1" r="4.8"/><circle cx="1090.0" cy="736.3" r="4.8"/><circle cx="1095.5" cy="739.2" r="4.8"/><circle cx="1111.7" cy="748.1" r="4.8"/><circle cx="1117.0" cy="751.1" r="4.8"/><circle cx="1126.7" cy="756.6" r="4.8"/><circle cx="1130.0" cy="758.5" r="4.8"/><circle cx="1135.8" cy="761.9" r="4.8"/><circle cx="1140.0" cy="764.3" r="4.8"/><circle cx="1144.7" cy="767.1" r="4.8"/><circle cx="1153.3" cy="772.2" r="4.8"/><circle cx="1157.5" cy="774.8" r="4.8"/><circle cx="1164.2" cy="778.9" r="4.8"/><circle cx="1173.3" cy="784.5" r="4.8"/><circle cx="1181.7" cy="789.8" r="4.8"/><circle cx="1195.0" cy="798.4" r="4.8"/><circle cx="1198.3" cy="800.5" r="4.8"/><circle cx="1202.5" cy="803.3" r="4.8"/><circle cx="1211.7" cy="809.4" r="4.8"/><circle cx="1219.2" cy="814.5" r="4.8"/></g>
<path d="M249.5,512.2 L253.2,512.6 L256.8,513.0 L260.5,513.4 L264.2,513.8 L267.9,514.2 L271.5,514.6 L275.2,515.0 L278.9,515.4 L282.5,515.9 L286.2,516.3 L289.9,516.7 L293.6,517.1 L297.2,517.6 L300.9,518.0 L304.6,518.4 L308.2,518.9 L311.9,519.3 L315.6,519.8 L319.3,520.2 L322.9,520.7 L326.6,521.1 L330.3,521.6 L333.9,522.1 L337.6,522.5 L341.3,523.0 L345.0,523.5 L348.6,524.0 L352.3,524.4 L356.0,524.9 L359.6,525.4 L363.3,525.9 L367.0,526.4 L370.7,526.9 L374.3,527.4 L378.0,527.9 L381.7,528.4 L385.3,528.9 L389.0,529.4 L392.7,530.0 L396.4,530.5 L400.0,531.0 L403.7,531.5 L407.4,532.1 L411.0,532.6 L414.7,533.1 L418.4,533.7 L422.1,534.2 L425.7,534.8 L429.4,535.3 L433.1,535.9 L436.7,536.5 L440.4,537.0 L444.1,537.6 L447.8,538.2 L451.4,538.8 L455.1,539.4 L458.8,539.9 L462.4,540.5 L466.1,541.1 L469.8,541.7 L473.5,542.3 L477.1,542.9 L480.8,543.6 L484.5,544.2 L488.1,544.8 L491.8,545.4 L495.5,546.1 L499.2,546.7 L502.8,547.3 L506.5,548.0 L510.2,548.6 L513.8,549.3 L517.5,549.9 L521.2,550.6 L524.9,551.3 L528.5,551.9 L532.2,552.6 L535.9,553.3 L539.5,554.0 L543.2,554.7 L546.9,555.4 L550.6,556.1 L554.2,556.8 L557.9,557.5 L561.6,558.2 L565.2,558.9 L568.9,559.6 L572.6,560.4 L576.3,561.1 L579.9,561.9 L583.6,562.6 L587.3,563.4 L590.9,564.1 L594.6,564.9 L598.3,565.6 L602.0,566.4 L605.6,567.2 L609.3,568.0 L613.0,568.8 L616.6,569.6 L620.3,570.4 L624.0,571.2 L627.7,572.0 L631.3,572.8 L635.0,573.6 L638.7,574.4 L642.4,575.3 L646.0,576.1 L649.7,577.0 L653.4,577.8 L657.0,578.7 L660.7,579.5 L664.4,580.4 L668.1,581.3 L671.7,582.2 L675.4,583.1 L679.1,584.0 L682.7,584.9 L686.4,585.8 L690.1,586.7 L693.8,587.6 L697.4,588.5 L701.1,589.5 L704.8,590.4 L708.4,591.3 L712.1,592.3 L715.8,593.3 L719.5,594.2 L723.1,595.2 L726.8,596.2 L730.5,597.2 L734.1,598.1 L737.8,599.2 L741.5,600.2 L745.2,601.2 L748.8,602.2 L752.5,603.2 L756.2,604.3 L759.8,605.3 L763.5,606.4 L767.2,607.4 L770.9,608.5 L774.5,609.5 L778.2,610.6 L781.9,611.7 L785.5,612.8 L789.2,613.9 L792.9,615.0 L796.6,616.1 L800.2,617.3 L803.9,618.4 L807.6,619.5 L811.2,620.7 L814.9,621.9 L818.6,623.0 L822.3,624.2 L825.9,625.4 L829.6,626.6 L833.3,627.8 L836.9,629.0 L840.6,630.2 L844.3,631.4 L848.0,632.7 L851.6,633.9 L855.3,635.1 L859.0,636.4 L862.6,637.7 L866.3,639.0 L870.0,640.2 L873.7,641.5 L877.3,642.8 L881.0,644.2 L884.7,645.5 L888.3,646.8 L892.0,648.2 L895.7,649.5 L899.4,650.9 L903.0,652.2 L906.7,653.6 L910.4,655.0 L914.0,656.4 L917.7,657.8 L921.4,659.2 L925.1,660.7 L928.7,662.1 L932.4,663.5 L936.1,665.0 L939.7,666.5 L943.4,667.9 L947.1,669.4 L950.8,670.9 L954.4,672.4 L958.1,674.0 L961.8,675.5 L965.4,677.0 L969.1,678.6 L972.8,680.2 L976.5,681.7 L980.1,683.3 L983.8,684.9" fill="none" stroke="#000" stroke-width="9.6" stroke-linecap="round" stroke-linejoin="round"/>
<path d="M994.5,689.6 L994.6,689.7 L994.8,689.8 L994.9,689.8 L995.0,689.9 L995.1,689.9 L995.3,690.0 L995.4,690.0 L995.5,690.1 L995.7,690.2 L995.8,690.2 L995.9,690.3 L996.1,690.3 L996.2,690.4 L996.3,690.4 L996.4,690.5 L996.6,690.6 L996.7,690.6 L996.8,690.7 L997.0,690.7 L997.1,690.8 L997.2,690.9 L997.3,690.9 L997.5,691.0 L997.6,691.0 L997.7,691.1 L997.9,691.1 L998.0,691.2 L998.1,691.3 L998.3,691.3 L998.4,691.4 L998.5,691.4 L998.6,691.5 L998.8,691.5 L998.9,691.6 L999.0,691.7 L999.2,691.7 L999.3,691.8 L999.4,691.8 L999.6,691.9 L999.7,692.0 L999.8,692.0 L999.9,692.1 L1000.1,692.1 L1000.2,692.2 L1000.3,692.2 L1000.5,692.3 L1000.6,692.4 L1000.7,692.4 L1000.8,692.5 L1001.0,692.5 L1001.1,692.6 L1001.2,692.7 L1001.4,692.7 L1001.5,692.8 L1001.6,692.8 L1001.8,692.9 L1001.9,692.9 L1002.0,693.0 L1002.1,693.1 L1002.3,693.1 L1002.4,693.2 L1002.5,693.2 L1002.7,693.3 L1002.8,693.4 L1002.9,693.4 L1003.0,693.5 L1003.2,693.5 L1003.3,693.6 L1003.4,693.7 L1003.6,693.7 L1003.7,693.8 L1003.8,693.8 L1004.0,693.9 L1004.1,693.9 L1004.2,694.0 L1004.3,694.1 L1004.5,694.1 L1004.6,694.2 L1004.7,694.2 L1004.9,694.3 L1005.0,694.4 L1005.1,694.4 L1005.2,694.5 L1005.4,694.5 L1005.5,694.6 L1005.6,694.7 L1005.8,694.7 L1005.9,694.8 L1006.0,694.8 L1006.2,694.9 L1006.3,694.9 L1006.4,695.0 L1006.5,695.1 L1006.7,695.1 L1006.8,695.2 L1006.9,695.2 L1007.1,695.3 L1007.2,695.4 L1007.3,695.4 L1007.5,695.5 L1007.6,695.5 L1007.7,695.6 L1007.8,695.7 L1008.0,695.7 L1008.1,695.8 L1008.2,695.8 L1008.4,695.9 L1008.5,696.0 L1008.6,696.0 L1008.7,696.1 L1008.9,696.1 L1009.0,696.2 L1009.1,696.2 L1009.3,696.3 L1009.4,696.4 L1009.5,696.4 L1009.7,696.5 L1009.8,696.5 L1009.9,696.6 L1010.0,696.7 L1010.2,696.7 L1010.3,696.8 L1010.4,696.8 L1010.6,696.9 L1010.7,697.0 L1010.8,697.0 L1010.9,697.1 L1011.1,697.1 L1011.2,697.2 L1011.3,697.3 L1011.5,697.3 L1011.6,697.4 L1011.7,697.4 L1011.9,697.5 L1012.0,697.6 L1012.1,697.6 L1012.2,697.7 L1012.4,697.7 L1012.5,697.8 L1012.6,697.9 L1012.8,697.9 L1012.9,698.0 L1013.0,698.0 L1013.1,698.1 L1013.3,698.2 L1013.4,698.2 L1013.5,698.3 L1013.7,698.3 L1013.8,698.4 L1013.9,698.5 L1014.1,698.5 L1014.2,698.6 L1014.3,698.6 L1014.4,698.7 L1014.6,698.8 L1014.7,698.8 L1014.8,698.9 L1015.0,698.9 L1015.1,699.0 L1015.2,699.1 L1015.3,699.1 L1015.5,699.2 L1015.6,699.2 L1015.7,699.3 L1015.9,699.4 L1016.0,699.4 L1016.1,699.5 L1016.3,699.5 L1016.4,699.6 L1016.5,699.7 L1016.6,699.7 L1016.8,699.8 L1016.9,699.8 L1017.0,699.9 L1017.2,700.0 L1017.3,700.0 L1017.4,700.1 L1017.6,700.1 L1017.7,700.2 L1017.8,700.3 L1017.9,700.3 L1018.1,700.4 L1018.2,700.4 L1018.3,700.5 L1018.5,700.6 L1018.6,700.6 L1018.7,700.7 L1018.8,700.7 L1019.0,700.8 L1019.1,700.9 L1019.2,700.9 L1019.4,701.0 L1019.5,701.0 L1019.6,701.1 L1019.8,701.2 L1019.9,701.2 L1020.0,701.3 L1020.1,701.3 L1020.3,701.4 L1020.4,701.5" fill="none" stroke="#000" stroke-width="9.6" stroke-linecap="round" stroke-linejoin="round"/>
<line x1="105.5" x2="1328.5" y1="455.35" y2="455.35" stroke="#FF0000" stroke-width="5.6" stroke-dasharray="22.75 22.75"/>
<path d="M160.9,445.8 L170.3,446.6 L179.6,447.4 L189.0,448.3 L198.3,449.2 L207.7,450.2 L217.0,451.1 L226.4,452.0 L235.7,452.9 L245.1,453.6 L254.4,454.3 L263.8,454.9 L273.1,455.4 L282.5,455.8 L291.9,456.0 L301.2,456.1 L310.6,456.0 L319.9,455.7 L329.3,455.3 L338.6,454.6 L348.0,453.8 L357.3,452.8 L366.7,451.8 L376.0,450.7 L385.4,449.6 L394.7,448.5 L404.1,447.5 L413.5,446.5 L422.8,445.6 L432.2,444.7 L441.5,443.9 L450.9,443.2 L460.2,442.6 L469.6,442.1 L478.9,441.6 L488.3,441.2 L497.6,440.8 L507.0,440.5 L516.3,440.3 L525.7,440.1 L535.1,440.0 L544.4,440.0 L553.8,439.9 L563.1,439.9 L572.5,439.9 L581.8,440.0 L591.2,440.1 L600.5,440.1 L609.9,440.2 L619.2,440.3 L628.6,440.3 L637.9,440.3 L647.3,440.3 L656.7,440.2 L666.0,440.1 L675.4,439.9 L684.7,439.7 L694.1,439.3 L703.4,438.9 L712.8,438.4 L722.1,437.8 L731.5,437.0 L740.8,436.2 L750.2,435.3 L759.5,434.4 L768.9,433.5 L778.2,432.7 L787.6,432.0 L797.0,431.4 L806.3,430.9 L815.7,430.5 L825.0,430.3 L834.4,430.3 L843.7,430.3 L853.1,430.6 L862.4,430.9 L871.8,431.5 L881.1,432.1 L890.5,432.8 L899.8,433.6 L909.2,434.4 L918.6,435.2 L927.9,435.9 L937.3,436.6 L946.6,437.2 L956.0,437.8 L965.3,438.2 L974.7,438.6 L984.0,438.8 L993.4,438.9 L1002.7,438.8 L1012.1,438.5 L1021.4,438.1 L1030.8,437.6 L1040.2,436.8 L1049.5,435.9 L1058.9,434.8 L1068.2,433.5 L1077.6,432.1 L1086.9,430.5 L1096.3,428.6 L1105.6,426.6 L1115.0,424.4 L1124.3,422.0 L1133.7,419.4 L1143.0,416.6 L1152.4,413.6 L1161.8,410.4 L1171.1,406.9 L1180.5,403.3 L1189.8,399.4 L1199.2,395.4 L1208.5,391.1 L1217.9,386.5 L1227.2,381.8 L1236.6,376.8 L1245.9,371.6 L1255.3,366.1 L1264.6,360.4 L1274.0,354.4 L1274.0,471.6 L1264.6,470.7 L1255.3,470.0 L1245.9,469.4 L1236.6,469.0 L1227.2,468.7 L1217.9,468.4 L1208.5,468.3 L1199.2,468.3 L1189.8,468.3 L1180.5,468.4 L1171.1,468.6 L1161.8,468.8 L1152.4,469.1 L1143.0,469.5 L1133.7,469.8 L1124.3,470.2 L1115.0,470.6 L1105.6,471.0 L1096.3,471.3 L1086.9,471.7 L1077.6,472.1 L1068.2,472.4 L1058.9,472.7 L1049.5,472.9 L1040.2,473.1 L1030.8,473.2 L1021.4,473.2 L1012.1,473.2 L1002.7,473.0 L993.4,472.8 L984.0,472.5 L974.7,472.0 L965.3,471.5 L956.0,470.8 L946.6,470.1 L937.3,469.3 L927.9,468.4 L918.6,467.5 L909.2,466.5 L899.8,465.5 L890.5,464.6 L881.1,463.7 L871.8,462.9 L862.4,462.2 L853.1,461.7 L843.7,461.3 L834.4,461.1 L825.0,461.1 L815.7,461.1 L806.3,461.4 L797.0,461.8 L787.6,462.3 L778.2,463.0 L768.9,463.8 L759.5,464.7 L750.2,465.6 L740.8,466.4 L731.5,467.3 L722.1,468.1 L712.8,468.7 L703.4,469.3 L694.1,469.8 L684.7,470.2 L675.4,470.6 L666.0,470.8 L656.7,471.1 L647.3,471.2 L637.9,471.4 L628.6,471.5 L619.2,471.6 L609.9,471.6 L600.5,471.7 L591.2,471.7 L581.8,471.8 L572.5,471.9 L563.1,472.0 L553.8,472.1 L544.4,472.3 L535.1,472.5 L525.7,472.7 L516.3,473.0 L507.0,473.3 L497.6,473.7 L488.3,474.2 L478.9,474.7 L469.6,475.3 L460.2,476.0 L450.9,476.8 L441.5,477.7 L432.2,478.7 L422.8,479.9 L413.5,481.1 L404.1,482.4 L394.7,483.9 L385.4,485.4 L376.0,487.1 L366.7,488.9 L357.3,491.0 L348.0,493.2 L338.6,495.8 L329.3,498.6 L319.9,501.8 L310.6,505.3 L301.2,509.0 L291.9,513.1 L282.5,517.4 L273.1,522.0 L263.8,526.8 L254.4,531.8 L245.1,537.0 L235.7,542.3 L226.4,547.9 L217.0,553.5 L207.7,559.3 L198.3,565.2 L189.0,571.1 L179.6,577.0 L170.3,583.0 L160.9,588.9Z" fill="#999999" fill-opacity="0.3"/>
<path d="M160.9,517.4 L170.3,514.8 L179.6,512.2 L189.0,509.7 L198.3,507.2 L207.7,504.7 L217.0,502.3 L226.4,499.9 L235.7,497.6 L245.1,495.3 L254.4,493.1 L263.8,490.8 L273.1,488.7 L282.5,486.6 L291.9,484.5 L301.2,482.6 L310.6,480.6 L319.9,478.7 L329.3,476.9 L338.6,475.2 L348.0,473.5 L357.3,471.9 L366.7,470.4 L376.0,468.9 L385.4,467.5 L394.7,466.2 L404.1,464.9 L413.5,463.8 L422.8,462.7 L432.2,461.7 L441.5,460.8 L450.9,460.0 L460.2,459.3 L469.6,458.7 L478.9,458.1 L488.3,457.7 L497.6,457.3 L507.0,456.9 L516.3,456.7 L525.7,456.4 L535.1,456.3 L544.4,456.1 L553.8,456.0 L563.1,456.0 L572.5,455.9 L581.8,455.9 L591.2,455.9 L600.5,455.9 L609.9,455.9 L619.2,455.9 L628.6,455.9 L637.9,455.8 L647.3,455.8 L656.7,455.6 L666.0,455.5 L675.4,455.2 L684.7,454.9 L694.1,454.6 L703.4,454.1 L712.8,453.6 L722.1,452.9 L731.5,452.2 L740.8,451.3 L750.2,450.4 L759.5,449.6 L768.9,448.7 L778.2,447.9 L787.6,447.2 L797.0,446.6 L806.3,446.1 L815.7,445.8 L825.0,445.7 L834.4,445.7 L843.7,445.8 L853.1,446.1 L862.4,446.6 L871.8,447.2 L881.1,447.9 L890.5,448.7 L899.8,449.6 L909.2,450.4 L918.6,451.3 L927.9,452.2 L937.3,453.0 L946.6,453.7 L956.0,454.3 L965.3,454.8 L974.7,455.3 L984.0,455.6 L993.4,455.8 L1002.7,455.9 L1012.1,455.9 L1021.4,455.7 L1030.8,455.4 L1040.2,454.9 L1049.5,454.4 L1058.9,453.7 L1068.2,453.0 L1077.6,452.1 L1086.9,451.1 L1096.3,450.0 L1105.6,448.8 L1115.0,447.5 L1124.3,446.1 L1133.7,444.6 L1143.0,443.0 L1152.4,441.4 L1161.8,439.6 L1171.1,437.8 L1180.5,435.9 L1189.8,433.9 L1199.2,431.8 L1208.5,429.7 L1217.9,427.5 L1227.2,425.2 L1236.6,422.9 L1245.9,420.5 L1255.3,418.1 L1264.6,415.6 L1274.0,413.0" fill="none" stroke="#0000FF" stroke-width="5.6" stroke-dasharray="22.75 22.75"/>
<rect x="106.0" y="61.3" width="1222.5" height="811.1" fill="none" stroke="#333333" stroke-width="1.5"/>
<rect x="106.0" y="15.3" width="1222.5" height="45.2" fill="#D9D9D9" stroke="#333333" stroke-width="1.6"/>
<text transform="translate(717.2,45.6) scale(1,0.97)" font-size="23.47" fill="#1A1A1A" text-anchor="middle">residuals</text>
<line x1="98" x2="106.0" y1="97.20" y2="97.20" stroke="#1A1A1A" stroke-width="2.6"/><text transform="translate(92,105.70) scale(1,0.97)" font-size="23.47" fill="#4D4D4D" text-anchor="end">1.0</text><line x1="98" x2="106.0" y1="276.28" y2="276.28" stroke="#1A1A1A" stroke-width="2.6"/><text transform="translate(92,284.78) scale(1,0.97)" font-size="23.47" fill="#4D4D4D" text-anchor="end">0.5</text><line x1="98" x2="106.0" y1="455.35" y2="455.35" stroke="#1A1A1A" stroke-width="2.6"/><text transform="translate(92,463.85) scale(1,0.97)" font-size="23.47" fill="#4D4D4D" text-anchor="end">0.0</text><line x1="98" x2="106.0" y1="634.42" y2="634.42" stroke="#1A1A1A" stroke-width="2.6"/><text transform="translate(92,642.92) scale(1,0.97)" font-size="23.47" fill="#4D4D4D" text-anchor="end">-0.5</text><line x1="98" x2="106.0" y1="813.50" y2="813.50" stroke="#1A1A1A" stroke-width="2.6"/><text transform="translate(92,822.00) scale(1,0.97)" font-size="23.47" fill="#4D4D4D" text-anchor="end">-1.0</text><line x1="125.50" x2="125.50" y1="872.4" y2="880.2" stroke="#1A1A1A" stroke-width="2.6"/><text transform="translate(125.50,902.6) scale(1,0.97)" font-size="23.47" fill="#4D4D4D" text-anchor="middle">-0.5</text><line x1="388.44" x2="388.44" y1="872.4" y2="880.2" stroke="#1A1A1A" stroke-width="2.6"/><text transform="translate(388.44,902.6) scale(1,0.97)" font-size="23.47" fill="#4D4D4D" text-anchor="middle">0.0</text><line x1="651.38" x2="651.38" y1="872.4" y2="880.2" stroke="#1A1A1A" stroke-width="2.6"/><text transform="translate(651.38,902.6) scale(1,0.97)" font-size="23.47" fill="#4D4D4D" text-anchor="middle">0.5</text><line x1="914.32" x2="914.32" y1="872.4" y2="880.2" stroke="#1A1A1A" stroke-width="2.6"/><text transform="translate(914.32,902.6) scale(1,0.97)" font-size="23.47" fill="#4D4D4D" text-anchor="middle">1.0</text><line x1="1177.25" x2="1177.25" y1="872.4" y2="880.2" stroke="#1A1A1A" stroke-width="2.6"/><text transform="translate(1177.25,902.6) scale(1,0.97)" font-size="23.47" fill="#4D4D4D" text-anchor="middle">1.5</text>
<text x="717.2" y="938.1" font-size="29.33" fill="#000" text-anchor="middle">Linear Predictions</text>
<text transform="translate(36.9,467.9) rotate(-90)" font-size="29.33" fill="#000" text-anchor="middle">Residuals (type = martingale)</text>
</svg></body></html>
